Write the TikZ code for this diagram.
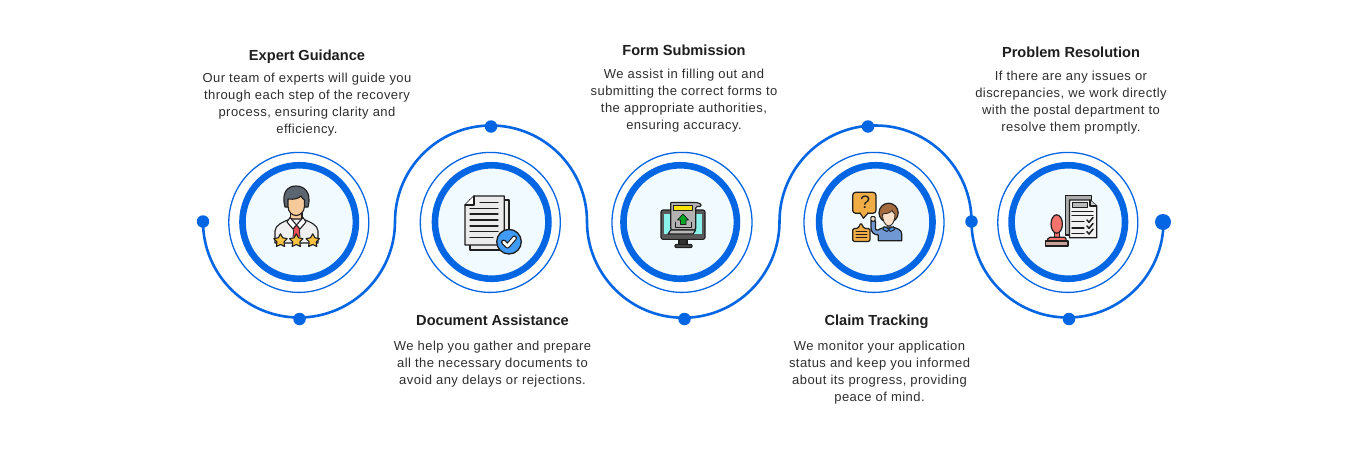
\documentclass[tikz,border=0pt]{standalone}
\usepackage{fontspec}
\setmainfont{Liberation Sans}[LetterSpace=3.5]
\definecolor{brand}{HTML}{0566E4}
\definecolor{disc}{HTML}{F1FAFF}
\definecolor{ink}{HTML}{1E1E1E}
\definecolor{copy}{HTML}{2E2E2E}
\definecolor{skin}{HTML}{F6CB9C}
\definecolor{paleskin}{HTML}{FBDFC6}
\definecolor{gold}{HTML}{FBC33F}
\definecolor{hair}{HTML}{5C6670}
\definecolor{amber}{HTML}{F0AD45}
\definecolor{denim}{HTML}{7099D4}
\definecolor{chestnut}{HTML}{A46B3E}
\definecolor{salmon}{HTML}{F4736B}
\definecolor{clay}{HTML}{C9A297}
\definecolor{aqua}{HTML}{8AF2EA}
\definecolor{badge}{HTML}{3F9BF5}
\definecolor{tie}{HTML}{E8505B}
\tikzset{
  link/.style={draw=brand,line width=2.6pt},
  dotmark/.style={circle,fill=brand,inner sep=0pt,minimum size=12.5pt},
  endmark/.style={circle,fill=brand,inner sep=0pt,minimum size=16pt},
  halo/.style={circle,draw=brand,line width=1.3pt,inner sep=0pt,minimum size=140pt},
  hub/.style={circle,draw=brand,fill=disc,line width=6.6pt,inner sep=0pt,minimum size=113.5pt},
  heading/.style={text=ink,font=\fontsize{14.6}{17}\selectfont\bfseries\addfontfeatures{LetterSpace=0},inner sep=0pt},
  blurb/.style={text=copy,font=\fontsize{13}{16.8}\selectfont,align=center,inner sep=0pt,anchor=north},
  ic/.style={draw=ink,line width=1.1pt,line join=round,line cap=round},
  icl/.style={draw=ink,line width=1.25pt,line cap=round},
  rating/.pic={\draw[ic,fill=gold] (0,-7)--(2.2,-3)--(6.66,-2.16)--(3.5,1.1)--(4.11,5.66)--(0,3.7)--(-4.11,5.66)--(-3.5,1.1)--(-6.66,-2.16)--(-2.2,-3)--cycle;}
}
\begin{document}
\begin{tikzpicture}[x=1pt,y=-1pt]
\useasboundingbox (0,0) rectangle (1366,450);
\fill[white] (0,0) rectangle (1366,450);

% Rings
\foreach \n/\hx/\cx in {a/298.8/299.2,b/490.3/491.7,c/682/680.2,d/874/875.8,e/1067.8/1068.3}{
  \node[halo] (halo\n) at (\hx,222.4) {};
  \node[hub] (hub\n) at (\cx,222) {};
}

% Markers along the winding line
\node[dotmark] (m1) at (203,221.5) {};
\node[dotmark] (m2) at (299.5,319) {};
\node[dotmark] (m3) at (491,126.5) {};
\node[dotmark] (m4) at (684.5,319) {};
\node[dotmark] (m5) at (868,126.5) {};
\node[dotmark] (m6) at (971.5,221.5) {};
\node[dotmark] (m7) at (1069,319) {};
\node[endmark] (m8) at (1163,222) {};

% Winding line
\draw[link] (m1.center) arc[start angle=180,end angle=0,radius=96]
  arc[start angle=180,end angle=360,radius=96]
  arc[start angle=180,end angle=0,radius=96.25]
  arc[start angle=180,end angle=360,radius=96]
  arc[start angle=180,end angle=0,radius=96]
  -- (m8.center);

% Icon: consultant with three stars
\draw[ic,fill=skin] (290.5,212) rectangle (302,223);
\draw[ic,fill=white!94!black] (275,243)--(275,231) .. controls (275,225) and (283,222) .. (290,219) -- (303,219) .. controls (310,222) and (318,225) .. (318,231)--(318,243)--cycle;
\fill[tie] (294,225) -- (299,225) -- (300,237) -- (293,237) -- cycle;
\draw[ic,line width=.8pt] (294,226)--(293,237) (299,226)--(300,237);
\draw[ic,fill=white] (290,217.5)--(296.5,225)--(293,229)--(287,222)--cycle;
\draw[ic,fill=white] (303,217.5)--(296.5,225)--(300,229)--(306,222)--cycle;
\draw[ic,fill=hair] (285,207) .. controls (281,192) and (288,186) .. (296,186) .. controls (304,186) and (312,192) .. (308,207) -- cycle;
\draw[ic,fill=skin] (288,199) .. controls (295,200) and (299,198) .. (301,196) .. controls (302,198) and (303,199) .. (304.5,200) -- (304.5,206) .. controls (304.5,212) and (300,215.5) .. (296.2,215.5) .. controls (292,215.5) and (288,212) .. (288,206) -- cycle;
\foreach \sx in {280.5,296.3,312.7} \pic at (\sx,240.8) {rating};

% Icon: stacked pages with an approval badge
\draw[ic,line width=1.3pt,fill=white!92!black] (470,200) rectangle (509,250);
\draw[ic,line width=1.3pt,fill=white!92!black] (474,196) -- (504.3,196) -- (504.3,245) -- (465,245) -- (465,205) -- cycle;
\draw[ic,fill=white] (474,196) -- (474,205) -- (465,205);
\foreach \ly/\la/\lb in {202.5/480/498,208.5/470/498,214/470/498,220/470/498,226/470/498,231.5/470/498,237.5/470/493}
  \draw[icl] (\la,\ly)--(\lb,\ly);
\draw[ic,line width=1.3pt,fill=badge] (509,241.7) circle[radius=12.3];
\draw[draw=ink,line width=5pt,line cap=round,line join=round] (503.5,242)--(507.5,246)--(514.5,238);
\draw[draw=white,line width=2.8pt,line cap=round,line join=round] (503.5,242)--(507.5,246)--(514.5,238);

% Icon: monitor with a form being uploaded
\draw[ic,fill=gray!40!black] (679,239) rectangle (687,245);
\draw[ic,fill=gray!60!black,rounded corners=1pt] (675,244.5) rectangle (692,247.5);
\draw[ic,rounded corners=2pt,fill=gray!70!black] (661,210) rectangle (705,239.3);
\fill[aqua] (664.3,213.5) rectangle (701.7,234);
\draw[ic,rounded corners=1.5pt,fill=gray!60] (670.7,230) -- (670.7,204.5) .. controls (670.7,203) and (672,202.5) .. (673,202.5) -- (696,202.5) .. controls (699,203) and (701,204) .. (701.5,206.5) -- (695.7,206.5) -- (695.7,230) -- cycle;
\draw[ic,fill=gray!55] (668,234) -- (670.7,230) -- (695.7,230) -- (693,234) -- cycle;
\draw[ic,line width=.7pt,fill=yellow!85!orange] (673.5,205.5) rectangle (692.5,210.5);
\draw[ic,line width=.7pt,fill=green!60!black!85!cyan] (683,214) -- (688.5,220) -- (686,220) -- (686,224.5) -- (680.5,224.5) -- (680.5,220) -- (677.5,220) -- cycle;
\draw[ic,line width=.9pt] (675,222) -- (675,227.5) -- (691,227.5) -- (691,222);

% Icon: person asking a question
\draw[ic,line width=1.2pt,rounded corners=3pt,fill=amber] (852.7,192.3) rectangle (876,213.3);
\draw[ic,line width=1.2pt,fill=amber] (860,213) -- (863.5,218.3) -- (868,213);
\fill[amber] (860.8,212) rectangle (867.2,214);
\node[inner sep=0pt,text=ink,font=\fontsize{18}{18}\selectfont] (qmark) at (865,202.5) {?};
\draw[ic,line width=1.2pt,rounded corners=1.5pt,fill=amber] (852.7,228.5) -- (858,228.5) -- (861,222.7) -- (864,228.5) -- (870,228.5) -- (870,241.5) -- (852.7,241.5) -- cycle;
\foreach \ly in {231.5,234.5,237.5} \draw[icl,line width=.9pt] (856,\ly)--(867,\ly);
\draw[ic,line width=1.2pt,fill=denim] (878.3,240.7) -- (878.3,235) .. controls (874,235) and (871,232) .. (871,228) -- (871,221) -- (875.5,221) -- (875.5,229) .. controls (876,230) and (877,230.5) .. (878,230) .. controls (880,228.5) and (884,227.5) .. (887,227) -- (891,227) .. controls (897,228) and (901.7,229.5) .. (901.7,234) -- (901.7,240.7) -- cycle;
\draw[ic,line width=1pt,fill=skin!60!white,rounded corners=1pt] (870.8,221) -- (870.8,216.5) -- (875.2,216.5) -- (875.2,221) -- cycle;
\draw[ic,line width=1.2pt,fill=chestnut] (888.6,212.8) circle[radius=9.6];
\draw[ic,line width=.8pt,fill=paleskin] (882.5,214) .. controls (886,214) and (890,213) .. (892,210.5) .. controls (893,212.5) and (894,213.5) .. (895,214) .. controls (895.3,220) and (892.5,226) .. (888.8,226) .. controls (885,226) and (882.3,220) .. (882.5,214) -- cycle;
\draw[ic,line width=.9pt,fill=badge!60!denim] (884,226.5) -- (888.8,229) -- (893.5,226.5) -- (894.5,229.5) -- (890.5,231.5) -- (888.8,229.8) -- (887,231.5) -- (883,229.5) -- cycle;

% Icon: stamp beside a checked list
\draw[ic,line width=1.3pt,fill=gray!65] (1065.7,195.7) rectangle (1091.7,235);
\draw[ic,line width=1.3pt,fill=white!95!black] (1069.4,200) -- (1090,200) -- (1096.7,206) -- (1096.7,237.7) -- (1069.4,237.7) -- cycle;
\draw[ic,fill=white!80!black] (1090,200) -- (1090,206) -- (1096.7,206);
\draw[ic,line width=1.2pt,fill=gray!55] (1072.7,202.7) rectangle (1087.7,207.7);
\foreach \ly/\lb in {211.5/1093,215.5/1093,221.5/1084,228/1084,233.5/1084}
  \draw[icl] (1072,\ly)--(\lb,\ly);
\foreach \ly in {220,226,231.7}
  \draw[icl,line width=1.5pt,line join=round] (1087,\ly)--(1089,\ly+2.3)--(1093,\ly-2.5);
\draw[ic,line width=1.2pt,fill=salmon] (1054.3,231) rectangle (1059.3,238);
\draw[ic,line width=1.2pt,fill=salmon] (1056.7,224) ellipse[x radius=5.7,y radius=9.2];
\draw[ic,line width=1.2pt,fill=salmon] (1047.7,241.5) -- (1047.7,239) .. controls (1048,237.8) and (1049,237.3) .. (1050,237.3) -- (1064,237.3) .. controls (1065,237.3) and (1066,237.8) .. (1066,239) -- (1066,241.5) -- cycle;
\draw[ic,line width=1.2pt,fill=clay] (1045.3,241) rectangle (1068,246);

% Captions
\node[heading] (t1) at (307,57) {Expert Guidance};
\node[blurb] (b1) at (307,73.2) {Our team of experts will guide you\\through each step of the recovery\\process, ensuring clarity and\\efficiency.};
\node[heading] (t2) at (492.5,320) {Document Assistance};
\node[blurb] (b2) at (492.5,341.2) {We help you gather and prepare\\all the necessary documents to\\avoid any delays or rejections.};
\node[heading] (t3) at (684,50) {Form Submission};
\node[blurb] (b3) at (684,69) {We assist in filling out and\\submitting the correct forms to\\the appropriate authorities,\\ensuring accuracy.};
\node[heading] (t4) at (876.5,322) {Claim Tracking};
\node[blurb] (b4) at (879.5,341) {We monitor your application\\status and keep you informed\\about its progress, providing\\peace of mind.};
\node[heading] (t5) at (1071,52) {Problem Resolution};
\node[blurb] (b5) at (1071,71) {If there are any issues or\\discrepancies, we work directly\\with the postal department to\\resolve them promptly.};
\end{tikzpicture}
\end{document}
